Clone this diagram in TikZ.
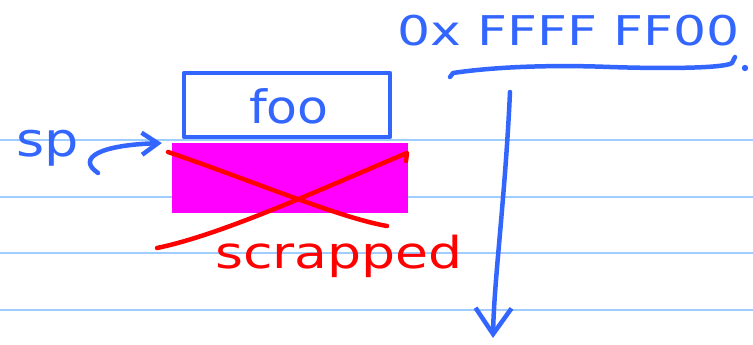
\documentclass[tikz,border=0pt]{standalone}
\usepackage{fontspec}
\setmainfont{DejaVu Sans}
\usetikzlibrary{arrows.meta}
\definecolor{pen}{RGB}{51,102,255}
\definecolor{ruled}{RGB}{160,205,255}
\definecolor{mag}{RGB}{255,0,255}
\definecolor{redpen}{RGB}{255,0,0}
\tikzset{
  ink/.style={draw=pen, line width=4.5pt, line cap=round, line join=round},
  redink/.style={draw=redpen, line width=4.5pt, line cap=round, line join=round},
  penlabel/.style={text=pen, inner sep=0pt},
  redlabel/.style={text=redpen, inner sep=0pt},
  ruledline/.style={draw=ruled, line width=2pt}
}
\begin{document}
\begin{tikzpicture}[x=1pt,y=-1pt]
\useasboundingbox (0,0) rectangle (753,345);
\fill[white] (0,0) rectangle (753,345);
% ruled paper lines
\foreach \yy in {140,197,253,310} \draw[ruledline] (0,\yy) -- (753,\yy);
% foo box
\node[ink, minimum width=206pt, minimum height=64pt, inner sep=0pt] (fooBox) at (287,105) {};
\node[penlabel, anchor=base, font=\fontsize{46}{46}\selectfont] (fooText) at (289,123) {\scalebox{1.1}[1]{foo}};
% magenta slot
\node[fill=mag, minimum width=236pt, minimum height=70pt, inner sep=0pt] (slot) at (290,178) {};
% red cross
\coordinate (xAa) at (168,152);
\coordinate (xAb) at (387,226);
\coordinate (xBa) at (157,248);
\coordinate (xBb) at (407,153);
\coordinate (xBh) at (406,161);
\draw[redink] (xAa) .. controls (250,180) and (340,218) .. (xAb);
\draw[redink] (xBa) .. controls (225,234) and (330,185) .. (xBb) -- (xBh);
\node[redlabel, anchor=base west, font=\fontsize{44}{44}\selectfont] (scrapText) at (215,268) {\scalebox{1.22}[1]{scrapped}};
% sp pointer
\node[penlabel, anchor=base west, font=\fontsize{47}{47}\selectfont] (spText) at (16,156) {\scalebox{1.15}[1]{sp}};
\coordinate (spTail) at (98,173);
\draw[ink, -{Straight Barb[length=16pt,width=22pt]}, shorten >=10pt] (spTail) .. controls (76,158) and (100,145) .. (slot.north west);
% address and growth arrow
\node[penlabel, anchor=base west, font=\fontsize{41}{41}\selectfont] (addr) at (397,46) {\scalebox{1.27}[1]{0x FFFF FF00}};
\coordinate (brA) at (450,77);
\coordinate (brB) at (735,57);
\coordinate (brDot) at (745,68);
\draw[ink] (brA) -- (453,73) .. controls (500,66) and (560,65) .. (610,67) .. controls (670,69) and (725,68) .. (732,63) -- (brB);
\fill[pen] (brDot) circle (3.2pt);
\coordinate (dnTop) at (510,92);
\coordinate (dnTip) at (493,338);
\draw[ink, -{Straight Barb[length=26pt,width=36pt]}] (dnTop) .. controls (505,200) and (494,280) .. (dnTip);
\end{tikzpicture}
\end{document}
